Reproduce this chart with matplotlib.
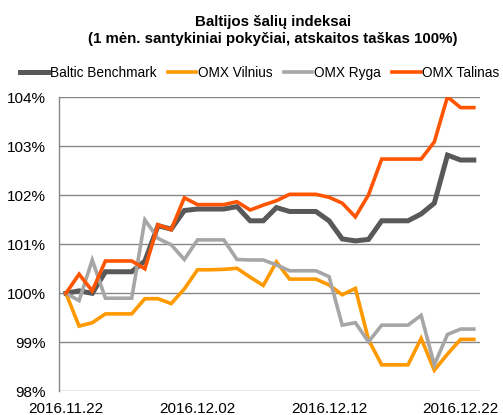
import matplotlib
matplotlib.use("Agg")
import matplotlib.pyplot as plt
import pandas as pd
import numpy as np

plt.rcParams['font.family'] = ['Liberation Sans', 'DejaVu Sans']

dates = pd.date_range("2016-11-22", "2016-12-23", freq="D")
tick_labels = ["2016.11.22", "2016.12.02", "2016.12.12", "2016.12.22"]

baltic_benchmark = [100.00, 100.05, 100.00, 100.44, 100.44, 100.44, 100.66, 101.38, 101.31, 101.69,
                    101.72, 101.72, 101.72, 101.77, 101.48, 101.48, 101.75, 101.67, 101.67, 101.67,
                    101.48, 101.11, 101.07, 101.10, 101.48, 101.48, 101.48, 101.62, 101.84, 102.82,
                    102.72, 102.72]
omx_vilnius = [100.00, 99.33, 99.40, 99.58, 99.58, 99.58, 99.89, 99.89, 99.79, 100.09,
               100.48, 100.48, 100.49, 100.51, 100.33, 100.16, 100.64, 100.29, 100.29, 100.29,
               100.17, 99.97, 100.10, 99.05, 98.54, 98.54, 98.54, 99.08, 98.43, 98.76,
               99.06, 99.06]
omx_ryga = [100.00, 99.85, 100.68, 99.90, 99.90, 99.90, 101.50, 101.12, 100.99, 100.69,
            101.09, 101.09, 101.09, 100.69, 100.68, 100.68, 100.58, 100.46, 100.46, 100.46,
            100.34, 99.35, 99.40, 99.01, 99.35, 99.35, 99.35, 99.55, 98.54, 99.16,
            99.27, 99.27]
omx_talinas = [100.00, 100.39, 100.05, 100.66, 100.66, 100.66, 100.50, 101.40, 101.30, 101.95,
               101.81, 101.81, 101.81, 101.87, 101.70, 101.80, 101.89, 102.02, 102.02, 102.02,
               101.96, 101.84, 101.56, 102.01, 102.74, 102.74, 102.74, 102.74, 103.09, 104.01,
               103.79, 103.79]

series = [
    ("Baltic Benchmark", baltic_benchmark, "#595959", 3.6),
    ("OMX Vilnius", omx_vilnius, "#FF9900", 2.6),
    ("OMX Ryga", omx_ryga, "#A6A6A6", 2.6),
    ("OMX Talinas", omx_talinas, "#FF5500", 2.6),
]

fig = plt.figure(figsize=(5.03, 4.15), dpi=100)
ax = fig.add_axes([0.118, 0.0571, 0.837, 0.7084])

for name, vals, color, lw in series:
    ax.plot(dates, np.array(vals) / 100.0, color=color, lw=lw, label=name,
            solid_joinstyle='miter', zorder=3)

ax.set_xlim(dates[0] - pd.Timedelta(hours=12), dates[-1] + pd.Timedelta(hours=12))
ax.set_ylim(0.98, 1.04)
ax.set_yticks(np.arange(0.98, 1.0401, 0.01))
ax.set_yticklabels([f"{v}%" for v in range(98, 105)])
tick_dates = pd.to_datetime([t.replace(".", "-") for t in tick_labels])
ax.set_xticks(tick_dates)
ax.set_xticklabels(tick_labels)

ax.grid(axis='y', color='#868686', lw=1.0, zorder=1)
for s in ['top', 'right', 'bottom']:
    ax.spines[s].set_visible(False)
ax.spines['left'].set_color('#868686')
ax.spines['left'].set_linewidth(1.0)
ax.tick_params(axis='both', length=0, labelsize=11, colors='black')
ax.tick_params(axis='y', pad=9.5)
ax.tick_params(axis='x', pad=8)

fig.text(0.543, 0.947, "Baltijos šalių indeksai", ha='center', va='center',
         fontsize=10.8, fontweight='bold')
fig.text(0.543, 0.906, "(1 mėn. santykiniai pokyčiai, atskaitos taškas 100%)", ha='center',
         va='center', fontsize=10.8, fontweight='bold')

leg = fig.legend(loc='center', bbox_to_anchor=(0.516, 0.824), ncol=4, frameon=False,
                 fontsize=9.8, handlelength=2.1, handletextpad=0.1, columnspacing=0.85,
                 borderpad=0, borderaxespad=0)

fig.savefig("out.png", dpi=100)
